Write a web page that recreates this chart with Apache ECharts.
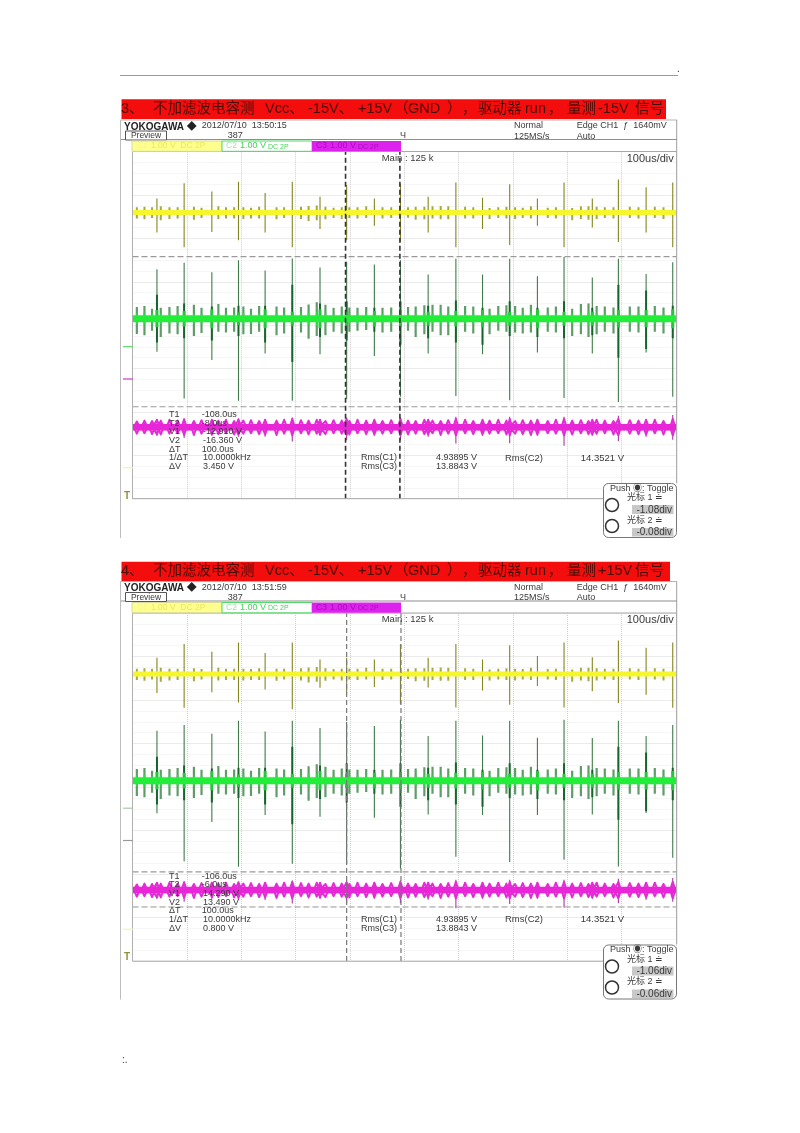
<!DOCTYPE html>
<html><head><meta charset="utf-8">
<style>html,body{margin:0;padding:0;background:#fff}#c{width:800px;height:1133px;filter:blur(0.4px)}</style>
<script src="https://cdn.jsdelivr.net/npm/echarts@6/dist/echarts.min.js"></script>
</head><body><div id="c"></div>
<script>
// ---- data: time in us from trigger, level in divisions ----
const bigTimes=[-455,-405,-354,-305,-256,-206,-155,-106,-55,-7,44,95,144,194,245,294,346,394,445,494];
const smallTimes=[-492,-478,-464,-448,-432,-417,-387,-373,-342,-328,-313,-296,-282,-267,-235,-221,-190,-176,-161,-145,-130,-115,-101,-86,-70,-40,-24,7,21,37,52,67,81,112,127,157,173,188,204,218,233,264,279,309,325,339,354,369,385,415,431,461,477];
const greenSmallUp=[.27,.29,.23,.25,.27,.29,.32,.25,.34,.25,.26,.28,.23,.29,.28,.26,.27,.33,.38,.32,.25,.28,.26,.25,.27,.25,.26,.27,.28,.31,.32,.32,.28,.29,.28,.23,.29,.31,.29,.25,.32,.26,.28,.23,.34,.35,.29,.28,.26,.28,.28,.29,.26];
const greenSmallDown=[.35,.38,.28,.42,.34,.36,.40,.33,.30,.32,.30,.36,.35,.30,.38,.34,.32,.46,.40,.38,.30,.34,.30,.28,.26,.32,.30,.28,.42,.36,.30,.38,.38,.30,.34,.36,.28,.30,.32,.34,.32,.30,.32,.40,.36,.42,.36,.30,.34,.30,.32,.30,.34];
const greenBurst=[.12,.14,.11,.12,.14,.13,.12,.11,.13,.12,.11,.14,.11,.12,.13,.11,.12,.15,.16,.12,.11,.12,.11,.12,.13,.11,.12,.11,.12,.13,.12,.14,.12,.12,.11,.11,.12,.13,.12,.11,.14,.12,.13,.11,.14,.15,.12,.12,.11,.12,.12,.13,.11];
const greenBigBurst=[.20,.18,.22,.15,.22,.16,.22,.16,.18,.20,.16,.18,.20,.16,.22,.16,.16,.20,.20,.22];
const yellowSmallUp=[.12,.13,.12,.14,.12,.12,.13,.11,.14,.12,.12,.12,.11,.13,.12,.12,.13,.15,.16,.13,.11,.12,.12,.12,.14,.12,.12,.12,.13,.13,.14,.15,.14,.13,.12,.10,.12,.13,.12,.11,.14,.11,.12,.10,.14,.14,.13,.12,.12,.13,.12,.13,.12];
const yellowSmallDown=[.14,.16,.13,.18,.15,.14,.17,.13,.15,.14,.14,.15,.14,.14,.16,.13,.15,.20,.18,.16,.13,.15,.13,.14,.13,.14,.13,.12,.17,.16,.14,.16,.16,.14,.14,.15,.13,.14,.15,.13,.14,.13,.14,.18,.15,.17,.15,.13,.14,.13,.14,.13,.15];
const magentaSmallUp=[.13,.15,.14,.15,.17,.15,.14,.16,.15,.17,.14,.15,.16,.14,.15,.17,.16,.15,.17,.14,.16,.15,.14,.17,.15,.14,.16,.15,.14,.17,.15,.14,.16,.17,.14,.15,.17,.15,.14,.16,.15,.14,.17,.15,.16,.14,.17,.15,.14,.16,.15,.17,.14];
const magentaSmallDown=[.15,.14,.16,.17,.15,.14,.18,.15,.16,.14,.17,.15,.14,.16,.18,.15,.14,.17,.15,.16,.14,.15,.17,.14,.16,.15,.14,.17,.15,.16,.14,.18,.15,.14,.16,.15,.14,.17,.15,.16,.18,.14,.15,.17,.14,.16,.15,.14,.17,.15,.16,.14,.17];
const magentaBigUp=[.18,.20,.18,.20,.18,.22,.18,.22,.18,.22,.18,.24,.18,.24,.18,.24,.18,.26,.18,.28];
const magentaBigBand=[.17,.18,.17,.18,.17,.19,.17,.18,.17,.19,.17,.19,.17,.19,.17,.19,.17,.19,.17,.19];

const green1Up=[1.14,1.29,1.07,1.35,1.11,1.39,1.18,1.31,1.25,1.35,1.02,1.38,1.02,1.38,.98,1.42,.95,1.38,1.03,1.30];
const green1Down=[.76,1.84,.95,1.89,.80,1.89,.82,1.85,.86,1.80,.80,1.78,.82,1.88,.78,1.83,.80,1.92,.78,1.80];
const green2Up=[1.15,1.28,1.08,1.38,1.13,1.38,1.21,1.35,1.26,1.40,1.03,1.38,1.04,1.38,.99,1.40,.98,1.38,1.03,1.28];
const green2Down=[.75,1.85,.95,1.98,.79,1.91,.83,1.92,.85,2.02,.78,1.75,.79,1.87,.79,1.82,.78,1.97,.74,1.77];
const greenCoreUp=[.55,.35,.28,.30,.30,.78,.35,.40,.25,.40,.30,.42,.25,.40,.25,.40,.25,.78,.65,.30];
const greenCoreDown=[.55,.45,.50,.40,.55,1.00,.42,.50,.30,.60,.45,.55,.60,.40,.42,.45,.38,.90,.70,.45];
const yellow1Up=[.32,.67,.48,.71,.45,.71,.36,.63,.32,.65,.36,.69,.34,.65,.32,.69,.32,.76,.58,.69];
const yellow1Down=[.46,.80,.45,.64,.46,.80,.38,.64,.31,.68,.46,.80,.38,.75,.31,.80,.35,.68,.46,.80];
const yellow2Up=[.37,.69,.51,.72,.48,.72,.33,.37,.33,.68,.37,.69,.33,.66,.41,.72,.38,.77,.60,.72];
const yellow2Down=[.44,.78,.42,.66,.36,.81,.32,.45,.30,.70,.31,.77,.38,.71,.28,.77,.40,.67,.48,.78];
const magenta1Down=[.20,.25,.20,.22,.22,.33,.20,.30,.20,.30,.22,.38,.20,.37,.20,.43,.20,.32,.22,.29];
const magenta2Down=[.20,.27,.20,.22,.23,.31,.20,.30,.20,.30,.22,.42,.20,.32,.20,.40,.20,.30,.22,.27];

const bases1={yellow:2.60,green:0.15,magenta:-2.35};
const bases2={yellow:2.60,green:0.145,magenta:-2.37};
const timeCursors1=[-108,-8], timeCursors2=[-106,-6];
const levelCursors1=[1.58,-1.88], levelCursors2=[-1.95,-2.76];

const dateTexts=['2012/07/10  13:50:15','2012/07/10  13:51:59'];
const counts=['387','387'];
const cursorLabels=['T1','T2','V1','V2','ΔT','1/ΔT','ΔV'];
const cursorValues1=['-108.0us','-8.0us','-12.910 V','-16.360 V','100.0us','10.0000kHz','3.450 V'];
const cursorValues2=['-106.0us','-6.0us','14.290 V','13.490 V','100.0us','10.0000kHz','0.800 V'];
const knob1=['-1.08div','-0.08div'], knob2=['-1.06div','-0.06div'];

// ---- layout ----
const PL=132.5,PW=543.5;
const panels=[
 {top:151.7,h:347,dy:0,gU:green1Up,gD:green1Down,yU:yellow1Up,yD:yellow1Down,mD:magenta1Down,b:bases1,tc:timeCursors1,lc:levelCursors1,cv:cursorValues1,k:knob1,date:dateTexts[0],n:counts[0],
  curCol:'#333',curW:1.6,signal:'-15V',redR:666,redT:99.3,redH:19.7,num:'3、'},
 {top:613,h:348,dy:461.5,gU:green2Up,gD:green2Down,yU:yellow2Up,yD:yellow2Down,mD:magenta2Down,b:bases2,tc:timeCursors2,lc:levelCursors2,cv:cursorValues2,k:knob2,date:dateTexts[1],n:counts[1],
  curCol:'#777',curW:1.2,signal:'+15V',redR:670,redT:561.7,redH:19.5,num:'4、'}
];
function spikes(times,ups,downs,base){
  const d=[];
  times.forEach((t,i)=>{d.push([t,base+ups[i]],[t,base-downs[i]],[NaN,NaN]);});
  return d;
}
// wavy edge of a band: each reading is a crest, with the band edge between crests
function edge(base,sign){
  const pts=[];
  smallTimes.forEach((t,i)=>pts.push([t,sign>0?magentaSmallUp[i]:magentaSmallDown[i]]));
  bigTimes.forEach((t,i)=>pts.push([t,magentaBigBand[i]]));
  pts.sort((a,b)=>a[0]-b[0]);
  const d=[];
  pts.forEach(q=>{d.push([q[0]-3.5,base+sign*0.05],[q[0],base+sign*q[1]],[q[0]+3.5,base+sign*0.05]);});
  return d;
}
function ln(idx,data,color,width,z,type){
  return {type:'line',xAxisIndex:idx,yAxisIndex:idx,data,symbol:'none',silent:true,animation:false,z,
    connectNulls:false,lineStyle:{color,width,type:type||'solid',cap:'butt',join:'round'}};
}
const series=[],grids=[],xAxes=[],yAxes=[],g=[];
function T(x,y,s,o){o=o||{};g.push({type:'text',z:20,silent:true,x,y,style:{text:s,fill:o.c||'#3a3a3a',
  font:(o.w||'normal')+' '+(o.s||9)+'px '+(o.f||'"Liberation Sans","Noto Sans CJK SC",sans-serif'),
  textAlign:o.a||'left',textVerticalAlign:'middle'}});}
function R(x,y,w,h,fill,stroke,r,z){g.push({type:'rect',z:z||15,silent:true,shape:{x,y,width:w,height:h,r:r||0},style:{fill:fill||'none',stroke:stroke||'none',lineWidth:1}});}
function L(x1,y1,x2,y2,c,w){g.push({type:'line',z:15,silent:true,shape:{x1,y1,x2,y2},style:{stroke:c,lineWidth:w||1}});}

// page rule and marks
L(120,75.5,678,75.5,'#999',1);
T(677,69,'.',{s:10,c:'#333'});
T(122,1060,':.',{s:10,c:'#333'});

panels.forEach((p,i)=>{
  grids.push({left:PL,top:p.top,width:PW,height:p.h,containLabel:false});
  xAxes.push({gridIndex:i,type:'value',min:-500,max:500,interval:100,axisLine:{show:false},axisTick:{show:false},axisLabel:{show:false},
    splitLine:{show:true,lineStyle:{color:'#cfcfcf',type:'dotted',width:1}},minorTick:{show:false,splitNumber:5},minorSplitLine:{show:false}});
  yAxes.push({gridIndex:i,type:'value',min:-4,max:4,interval:1,axisLine:{show:false},axisTick:{show:false},axisLabel:{show:false},
    splitLine:{show:true,lineStyle:{color:'#d6d6d6',type:'dotted',width:1}},minorTick:{show:false,splitNumber:4},minorSplitLine:{show:true,lineStyle:{color:'#ececec',type:'dotted',width:1}}});
  // yellow
  series.push(ln(i,spikes(smallTimes,yellowSmallUp,yellowSmallDown,p.b.yellow),'#a9a840',2,3));
  series.push(ln(i,spikes(bigTimes,p.yU,p.yD,p.b.yellow),'#85851f',1.1,4));
  series.push(ln(i,[[-500,p.b.yellow],[500,p.b.yellow]],'#f6f62c',5,5));
  // green
  series.push(ln(i,spikes(smallTimes,greenSmallUp,greenSmallDown,p.b.green),'#5e9c68',2.2,3));
  series.push(ln(i,spikes(bigTimes,p.gU,p.gD,p.b.green),'#3f7a4b',1.1,4));
  series.push(ln(i,spikes(bigTimes,greenCoreUp,greenCoreDown,p.b.green),'#15652a',2,4));
  series.push(ln(i,spikes(smallTimes,greenBurst,greenBurst,p.b.green),'#2bd845',1.6,5));
  series.push(ln(i,spikes(bigTimes,greenBigBurst,greenBigBurst,p.b.green),'#22c83a',3,5));
  series.push(ln(i,[[-500,p.b.green],[500,p.b.green]],'#22ee3a',7,6));
  // magenta
  series.push(ln(i,spikes(bigTimes,magentaBigUp,p.mD,p.b.magenta),'#a8389f',1.1,4));
  series.push(ln(i,edge(p.b.magenta,1),'#e42cd6',2,5));
  series.push(ln(i,edge(p.b.magenta,-1),'#e42cd6',2,5));
  series.push(ln(i,[[-500,p.b.magenta],[500,p.b.magenta]],'#e826d8',6.5,5));
  // cursors
  p.tc.forEach(t=>series.push(ln(i,[[t,-4],[t,4]],p.curCol,p.curW,8,[5,3])));
  p.lc.forEach(v=>series.push(ln(i,[[-500,v],[500,v]],'#9a9a9a',1.1,2,[6,3])));

  const d=p.dy;
  // title band
  R(121.5,p.redT,p.redR-121.5,p.redH,'#f40d0d');
  const ty=p.redT+p.redH/2, tc='#4a0e06';
  const parts=[[121,p.num],[153,'不加滤波电容测'],[265,'Vcc、'],[308,'-15V、'],[358,'+15V'],[394,'（'],[408,'GND'],[447,'）'],[462,'，'],[478,'驱动器'],[525,'run'],[548,'，'],[567,'量测'],[598,p.signal],[635,'信号']];
  parts.forEach(a=>T(a[0],ty,a[1],{s:14.5,c:tc}));
  // frame
  L(120.5,120+d,677,120+d,'#b5b5b5');
  L(120.5,120+d,120.5,538+d,'#bdbdbd');
  L(676.7,120+d,676.7,483+d,'#9f9f9f');
  L(121,139.5+d,677,139.5+d,'#8f8f8f');
  L(132,151.5+d,677,151.5+d,'#a8a8a8');
  L(132.5,151.5+d,132.5,498.7+d+(i?1:0),'#b0b0b0');
  L(132.5,498.7+d+(i?1:0),603,498.7+d+(i?1:0),'#a8a8a8');
  // header text
  T(124,127+d,'YOKOGAWA ◆',{s:10,w:'bold',c:'#222'});
  T(201.7,126+d,p.date,{s:9});
  R(125.5,131+d,41,9,'#fff','#555');
  T(146,135.8+d,'Preview',{s:8.5,a:'center'});
  T(227.7,136+d,p.n,{s:9});
  T(400,136+d,'Ч',{s:9});
  T(514,126+d,'Normal',{s:9});T(514,136.5+d,'125MS/s',{s:9});
  T(576.7,126+d,'Edge CH1  ƒ  1640mV',{s:9});T(576.7,136.5+d,'Auto',{s:9});
  // channel bar
  R(132,141+d,90,10.3,'#ffff8e','#d9d9a0');
  T(151,146+d,'1.00 V  DC 2P',{s:8.5,c:'#e8e860'});
  T(137,146+d,'C1',{s:8.5,c:'#f4f4a0'});
  R(222,141+d,90,10.3,'#ffffff','#54d868');
  T(226,146+d,'C2',{s:8.5,c:'#9be8a8'});
  T(240,146+d,'1.00 V',{s:9,c:'#45d45c'});T(268,147+d,'DC 2P',{s:7,c:'#45d45c'});
  R(312,141+d,89,10.3,'#dd22ee');
  T(316,146+d,'C3',{s:8.5,c:'#a80fb8'});
  T(330,146+d,'1.00 V',{s:9,c:'#a80fb8'});T(358,147+d,'DC 2P',{s:7,c:'#a80fb8'});
  // main labels
  T(381.7,158+d,'Main : 125 k',{s:9.5});
  T(626.7,158.5+d,'100us/div',{s:11});
  // ground markers
  L(123,346.7+d,133,346.7+d,i?'#a8c8ad':'#56d868',1.2);
  L(123,379+d,133,379+d,i?'#999':'#c63cc0',1.2);
  L(123,467.7+d,133,467.7+d,'#f4f4a8',1.2);
  T(124,496+d,'T',{s:10,c:'#8f8f40',w:'bold'});
  // cursor readout
  const rows=[415,423.5,432,441,449.5,458,467];
  cursorLabels.forEach((s,j)=>{T(169,rows[j]+d,s,{s:9});T(j<2||j==4?201.7:203,rows[j]+d,p.cv[j],{s:9});});
  T(361,458+d,'Rms(C1)',{s:9});T(361,467+d,'Rms(C3)',{s:9});
  T(436,458+d,'4.93895 V',{s:9});T(436,467+d,'13.8843 V',{s:9});
  T(505,458+d,'Rms(C2)',{s:9.5});T(580.7,458+d,'14.3521 V',{s:9.5});
  // knob box
  R(603.5,483.5+d,73,54,'#fff','#777',5);
  T(610,488.5+d,'Push ◉: Toggle',{s:9});
  g.push({type:'circle',z:16,silent:true,shape:{cx:612,cy:505+d,r:6.5},style:{fill:'#fff',stroke:'#333',lineWidth:1.5}});
  g.push({type:'circle',z:16,silent:true,shape:{cx:612,cy:526+d,r:6.5},style:{fill:'#fff',stroke:'#333',lineWidth:1.5}});
  T(627,498+d,'光标 1 ≐',{s:9});
  R(632,505+d,41.5,9,'#c8c8c8',null,0,16);T(672,509.8+d,p.k[0],{s:10,a:'right'});
  T(627,520.5+d,'光标 2 ≐',{s:9});
  R(632,528+d,41.5,8.5,'#c8c8c8',null,0,16);T(672,532.5+d,p.k[1],{s:10,a:'right'});
});
const chart=echarts.init(document.getElementById('c'),null,{renderer:'canvas',width:800,height:1133});
chart.setOption({animation:false,backgroundColor:'#fff',grid:grids,xAxis:xAxes,yAxis:yAxes,series,graphic:{elements:g}});
</script></body></html>
